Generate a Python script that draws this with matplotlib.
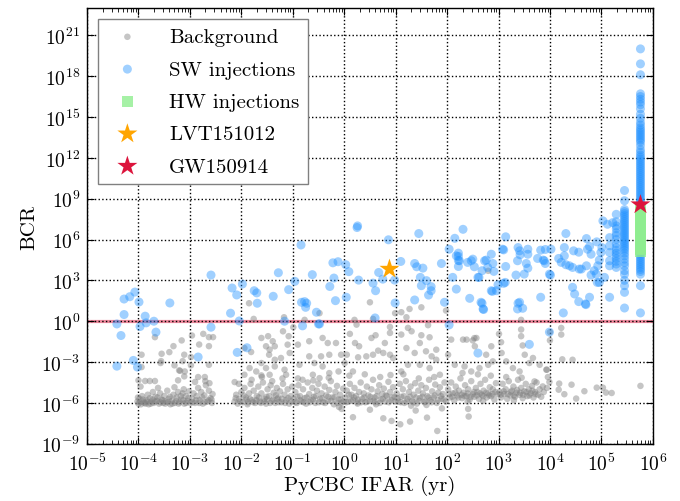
import numpy as np
import matplotlib
matplotlib.use("Agg")
import matplotlib.pyplot as plt
from matplotlib.ticker import LogLocator, NullLocator, LogFormatterMathtext

plt.rcParams["font.family"] = "serif"
plt.rcParams["font.serif"] = ["cmr10", "DejaVu Serif"]
plt.rcParams["mathtext.fontset"] = "cm"
plt.rcParams["axes.formatter.use_mathtext"] = True
plt.rcParams["axes.unicode_minus"] = False

# values, as log10(IFAR / yr) and log10(BCR)
bg_pts = [
    # dense band, 1e-4 .. 1e-3 yr
    (-4.02, -5.9), (-4.0, -6.05), (-3.98, -5.7), (-3.95, -6.1), (-3.93, -5.5), (-3.9, -5.95),
    (-3.88, -6.0), (-3.85, -5.8), (-3.82, -5.4), (-3.8, -6.1), (-3.78, -5.65), (-3.75, -5.9),
    (-3.72, -5.2), (-3.7, -6.0), (-3.67, -5.55), (-3.64, -5.85), (-3.6, -6.05), (-3.58, -5.3),
    (-3.55, -5.75), (-3.52, -6.0), (-3.5, -5.5), (-3.47, -5.9), (-3.44, -5.1), (-3.41, -5.7),
    (-3.38, -6.1), (-3.35, -5.85), (-3.32, -5.4), (-3.29, -6.0), (-3.26, -5.6), (-3.23, -5.2),
    (-3.2, -5.95), (-3.17, -5.75), (-3.14, -5.3), (-3.11, -6.05), (-3.08, -5.5), (-3.05, -5.85),
    (-3.02, -5.15), (-2.99, -6.0), (-3.96, -4.8), (-3.62, -4.9), (-3.3, -4.85), (-3.12, -5.0),
    (-2.96, -5.7), (-2.93, -5.3), (-2.9, -6.0), (-2.87, -5.5), (-2.84, -4.9), (-2.81, -5.8),
    (-2.78, -5.2), (-2.75, -6.05), (-2.72, -5.45), (-2.69, -4.7), (-2.66, -5.9), (-2.63, -5.1),
    (-2.6, -5.65), (-2.57, -6.0), (-2.56, -5.35), (-2.7, -4.4), (-2.62, -4.55),
    (-4.01, -5.6), (-3.97, -5.95), (-3.91, -5.75), (-3.86, -6.05), (-3.83, -5.9), (-3.76, -6.05),
    (-3.73, -5.75), (-3.68, -5.9), (-3.63, -5.6), (-3.57, -5.95), (-3.53, -5.8), (-3.48, -6.05),
    (-3.43, -5.95), (-3.39, -5.55), (-3.34, -6.05), (-3.27, -5.85), (-3.22, -6.05), (-3.18, -5.5),
    (-3.13, -5.8), (-3.07, -6.0), (-3.03, -5.65), (-2.95, -5.95), (-2.88, -5.8), (-2.82, -6.0),
    (-2.76, -5.6), (-2.7, -5.95), (-2.64, -5.8), (-2.58, -5.75),
    # 1e-2 .. 1e-1
    (-2.13, -5.9), (-2.1, -5.4), (-2.07, -6.05), (-2.04, -5.7), (-2.0, -5.2), (-1.97, -5.95),
    (-1.94, -4.9), (-1.91, -5.6), (-1.88, -6.1), (-1.85, -5.3), (-1.82, -4.6), (-1.79, -5.8),
    (-1.76, -5.1), (-1.73, -6.0), (-1.7, -5.5), (-1.67, -4.8), (-1.64, -5.9), (-1.61, -5.3),
    (-1.58, -4.5), (-1.55, -5.7), (-1.52, -6.05), (-1.49, -5.0), (-1.46, -5.5), (-1.43, -4.7),
    (-1.4, -5.85), (-1.37, -5.25), (-1.34, -6.0), (-1.31, -4.9), (-1.28, -5.6), (-1.25, -5.15),
    (-1.22, -5.95), (-1.19, -4.6), (-1.16, -5.4), (-1.13, -5.8), (-1.1, -5.0), (-1.07, -6.05),
    (-1.04, -5.5), (-1.01, -4.8), (-1.8, -4.3), (-1.6, -4.1), (-1.4, -4.4), (-1.2, -4.2),
    (-2.05, -4.6), (-1.5, -5.75), (-1.3, -5.7), (-1.9, -5.75),
    (-2.11, -5.65), (-2.02, -5.9), (-1.96, -5.45), (-1.87, -5.95), (-1.83, -5.7), (-1.77, -5.95),
    (-1.71, -5.8), (-1.66, -5.6), (-1.62, -6.0), (-1.56, -5.9), (-1.51, -5.55), (-1.44, -6.0),
    (-1.38, -5.75), (-1.33, -5.45), (-1.27, -5.95), (-1.21, -5.7), (-1.15, -6.0), (-1.09, -5.65),
    (-1.03, -5.9),
    # 1e-1 .. 1
    (-0.98, -5.7), (-0.95, -5.2), (-0.92, -6.0), (-0.89, -4.7), (-0.86, -5.5), (-0.83, -5.9),
    (-0.8, -5.0), (-0.77, -5.65), (-0.74, -6.05), (-0.71, -4.5), (-0.68, -5.35), (-0.65, -5.8),
    (-0.62, -4.9), (-0.59, -5.55), (-0.56, -6.0), (-0.53, -5.1), (-0.5, -4.6), (-0.47, -5.7),
    (-0.44, -5.3), (-0.41, -5.95), (-0.38, -4.8), (-0.35, -5.45), (-0.32, -5.85), (-0.29, -5.05),
    (-0.26, -4.4), (-0.23, -5.6), (-0.2, -6.1), (-0.17, -5.2), (-0.14, -4.75), (-0.11, -5.75),
    (-0.08, -5.4), (-0.05, -6.0), (-0.02, -4.95), (-0.9, -4.2), (-0.6, -4.35), (-0.3, -4.15),
    (-0.1, -6.3),
    (-0.96, -5.95), (-0.91, -5.55), (-0.85, -5.8), (-0.79, -5.95), (-0.73, -5.6), (-0.67, -5.95),
    (-0.61, -5.75), (-0.55, -5.5), (-0.49, -5.95), (-0.43, -5.65), (-0.37, -6.0), (-0.31, -5.55),
    (-0.25, -5.85), (-0.19, -5.6), (-0.13, -6.0), (-0.07, -5.75), (-0.01, -5.9),
    # 1 .. 10
    (0.02, -5.6), (0.05, -5.1), (0.08, -5.9), (0.11, -4.6), (0.14, -5.4), (0.17, -5.8),
    (0.2, -4.9), (0.23, -5.5), (0.26, -6.05), (0.29, -5.2), (0.32, -4.5), (0.35, -5.7),
    (0.38, -5.3), (0.41, -5.95), (0.44, -4.8), (0.47, -5.45), (0.5, -5.85), (0.53, -5.0),
    (0.56, -4.3), (0.59, -5.6), (0.62, -6.1), (0.65, -5.15), (0.68, -4.7), (0.71, -5.75),
    (0.74, -5.35), (0.77, -4.95), (0.8, -5.9), (0.83, -5.5), (0.86, -4.45), (0.89, -5.2),
    (0.92, -5.8), (0.95, -4.85), (0.98, -5.55), (0.1, -4.0), (0.4, -3.9), (0.7, -4.1),
    (0.9, -3.95), (0.25, -5.95), (0.6, -5.95),
    (0.04, -5.95), (0.09, -5.4), (0.13, -5.85), (0.19, -5.6), (0.27, -5.75), (0.33, -5.95),
    (0.39, -5.6), (0.45, -5.9), (0.51, -5.55), (0.57, -5.85), (0.63, -5.5), (0.69, -6.0),
    (0.75, -5.7), (0.81, -5.45), (0.87, -5.95), (0.93, -5.6), (0.99, -5.9),
    # 10 .. 100
    (1.02, -5.3), (1.05, -5.9), (1.08, -4.6), (1.11, -5.55), (1.14, -5.0), (1.17, -6.0),
    (1.2, -4.4), (1.23, -5.7), (1.26, -5.2), (1.29, -4.8), (1.32, -5.85), (1.35, -5.4),
    (1.38, -4.55), (1.41, -6.05), (1.44, -5.1), (1.47, -5.65), (1.5, -4.7), (1.53, -5.3),
    (1.56, -5.95), (1.59, -4.9), (1.62, -5.5), (1.65, -4.3), (1.68, -5.8), (1.71, -5.15),
    (1.74, -5.6), (1.77, -4.65), (1.8, -6.0), (1.83, -5.25), (1.86, -4.85), (1.89, -5.7),
    (1.92, -5.35), (1.95, -4.5), (1.98, -5.9), (1.15, -3.9), (1.45, -4.2), (1.75, -4.1),
    (1.3, -6.2), (1.6, -6.15),
    (1.04, -5.65), (1.1, -5.95), (1.16, -5.5), (1.22, -5.9), (1.28, -5.55), (1.34, -5.95),
    (1.4, -5.6), (1.46, -5.85), (1.52, -5.55), (1.58, -5.9), (1.64, -5.6), (1.7, -5.95),
    (1.76, -5.45), (1.82, -5.8), (1.88, -5.5), (1.94, -5.75),
    # 100 .. 1e3
    (2.02, -5.0), (2.05, -5.6), (2.08, -4.5), (2.11, -5.3), (2.14, -5.8), (2.17, -4.8),
    (2.2, -5.45), (2.23, -5.1), (2.26, -4.2), (2.29, -5.65), (2.32, -5.25), (2.35, -4.7),
    (2.38, -5.5), (2.41, -5.0), (2.44, -5.75), (2.47, -4.4), (2.5, -5.35), (2.53, -5.55),
    (2.56, -4.9), (2.59, -5.2), (2.62, -5.7), (2.65, -4.6), (2.68, -5.4), (2.71, -5.1),
    (2.74, -4.3), (2.77, -5.6), (2.8, -5.3), (2.83, -4.85), (2.86, -5.5), (2.89, -5.0),
    (2.92, -5.75), (2.95, -4.55), (2.98, -5.35), (2.3, -3.8), (2.6, -3.9), (2.85, -4.0),
    (2.4, -5.9), (2.7, -5.85),
    (2.04, -5.35), (2.1, -5.55), (2.16, -5.25), (2.22, -5.6), (2.28, -5.4), (2.34, -5.5),
    (2.4, -5.3), (2.46, -5.55), (2.52, -5.2), (2.58, -5.45), (2.64, -5.3), (2.7, -5.5),
    (2.76, -5.25), (2.82, -5.45), (2.88, -5.35), (2.94, -5.2),
    # 1e3 .. 1e4
    (3.02, -5.2), (3.05, -5.6), (3.08, -4.6), (3.11, -5.35), (3.14, -5.0), (3.17, -5.7),
    (3.2, -4.4), (3.23, -5.45), (3.26, -5.1), (3.29, -4.8), (3.32, -5.55), (3.35, -5.25),
    (3.38, -4.3), (3.41, -5.4), (3.44, -4.9), (3.47, -5.65), (3.5, -5.15), (3.53, -4.6),
    (3.56, -5.5), (3.59, -5.0), (3.62, -5.3), (3.65, -4.75), (3.68, -5.6), (3.71, -5.2),
    (3.74, -4.5), (3.77, -5.4), (3.8, -5.0), (3.83, -5.55), (3.88, -5.2), (3.94, -4.9),
    (3.15, -4.1), (3.45, -4.15), (3.3, -5.8),
    (3.04, -5.4), (3.1, -5.15), (3.18, -5.35), (3.24, -5.2), (3.3, -5.45), (3.36, -5.05),
    (3.42, -5.25), (3.48, -5.4), (3.54, -5.2), (3.6, -5.45), (3.66, -5.1), (3.72, -5.35),
    # sparse upper part
    (-3.68, -1.17), (-3.94, -2.46), (-3.55, -2.39), (-3.4, -2.27), (-3.32, -1.83), (-3.16, -1.41),
    (-3.11, -2.46), (-3.14, -2.93), (-3.3, -3.24), (-3.56, -2.93), (-2.96, -1.05), (-2.74, -0.93),
    (-2.82, -1.71), (-2.63, -1.17), (-2.55, -1.17), (-2.63, -1.83), (-2.98, -2.63), (-2.98, -3.24),
    (-3.21, -3.61), (-3.11, -4.05), (-3.23, -4.34), (-2.84, -4.1), (-2.71, -4.1), (-2.9, -4.46),
    (-4.0, -4.34), (-3.87, -4.39), (-3.78, -4.39), (-3.68, -4.39), (-3.94, -3.37), (-3.57, -3.07),
    (-3.19, -3.64), (-3.1, -3.69), (-2.63, -3.2), (-2.13, -4.47),
    (-1.85, 1.32), (-1.76, 0.17), (-1.17, 0.29), (-0.99, -0.44), (-0.77, 0.1), (-0.48, 0.59),
    (-1.94, -1.97), (-1.81, -2.26), (-1.61, -1.23), (-1.48, -1.1), (-1.52, -1.84), (-1.45, -2.09),
    (-1.39, -1.47), (-1.35, -1.84), (-1.46, -2.46), (-1.35, -2.83), (-1.23, -2.7), (-1.1, -1.72),
    (-1.06, -2.33), (-1.19, -0.74), (-1.08, -1.1), (-1.61, -3.07), (-1.52, -3.44), (-1.35, -3.32),
    (-1.84, -3.44), (-1.94, -3.93), (-1.71, -3.69), (-1.61, -3.98), (-1.45, -3.93), (-1.16, -3.56),
    (-1.13, -3.93),
    (-0.9, -1.72), (-0.68, -1.47), (-0.42, -1.23), (-0.32, -1.6), (-0.16, -1.6), (-0.06, -2.46),
    (-0.29, -2.46), (-0.45, -2.58), (-0.68, -2.58), (-0.87, -3.2), (-0.58, -3.07), (-0.42, -3.32),
    (-0.29, -3.81), (-0.11, -3.69), (-0.61, -3.93), (-0.81, -4.3), (-0.48, -4.18),
    (0.24, -0.25), (0.89, -0.42), (0.89, -0.86), (0.11, -0.93), (0.21, -1.6), (0.29, -1.84),
    (0.53, -1.23), (0.61, -1.03), (0.79, -1.6), (0.66, -2.16), (0.76, -2.33), (0.89, -2.46),
    (0.56, -2.46), (0.43, -2.58), (0.27, -2.65), (0.05, -2.46), (0.01, -3.07), (0.17, -3.69),
    (0.95, -2.7), (1.11, -0.98), (1.24, -0.49), (1.31, -0.74), (1.5, -1.03), (1.63, -0.29),
    (1.66, -1.18), (1.47, -1.6), (1.21, -1.97), (1.59, -2.21), (1.79, -2.09), (1.7, -2.58),
    (1.37, -2.33), (1.79, -2.83), (1.24, -3.2), (1.11, -3.69), (1.47, -3.2), (1.66, -3.44),
    (1.86, -3.93), (2.08, -1.35), (2.31, -1.35), (2.38, -1.35), (2.57, -1.23), (2.54, -1.84),
    (2.02, -2.46), (2.15, -3.2), (2.34, -3.32), (2.47, -3.69), (2.63, -3.44), (2.8, -3.2),
    (2.89, -2.95), (2.76, -2.46), (2.86, -1.84), (3.06, -2.33), (3.15, -2.95), (3.28, -3.44),
    (3.41, -3.69), (3.44, -1.1), (3.44, -0.61), (3.51, -2.46), (3.6, -3.07), (3.67, -2.7),
    (3.8, -3.2), (3.93, -3.56), (3.7, -4.42), (3.86, -4.79),
    (0.5, 1.39), (0.99, 0.59), (1.11, 0.66), (1.27, 0.9), (1.21, 0.29), (1.5, 1.02),
    (1.98, 0.78), (0.2, 0.1), (0.56, 0.17), (3.44, 0.1), (2.8, 3.7),
    (3.01, -0.93), (3.05, -1.54), (2.5, -1.41), (2.53, -1.24), (4.0, -0.8), (4.0, -1.41),
    (4.22, -0.49), (4.22, -0.98), (4.44, -2.83), (3.94, -3.56), (4.24, -2.8), (3.47, -1.78),
    # tail at large IFAR
    (3.99, -4.46), (4.18, -4.58), (4.42, -4.66), (4.51, -5.68), (4.67, -5.14), (4.91, -4.88),
    (5.03, -4.88), (5.09, -5.24), (5.2, -5.27), (5.76, -4.75), (4.28, -5.36), (4.17, -5.03),
    (3.96, -4.1),
    # below the band
    (0.17, -7.05), (0.76, -7.13), (0.92, -7.32), (1.09, -7.57), (1.28, -7.37), (1.39, -6.56),
    (1.61, -7.08), (1.81, -8.06), (2.41, -6.44), (2.42, -7.0), (-0.05, -6.44), (0.5, -6.5),
    (1.9, -6.4),
]

sw_pts = [
    (-4.42, -0.2), (-4.34, -1.05), (-4.42, -3.3), (-4.28, 0.49), (-4.28, 1.63), (-4.17, 1.8),
    (-4.07, 2.14), (-3.99, 1.41), (-3.97, -0.39), (-4.1, -2.88), (-4.02, -3.37), (-3.87, 0.37),
    (-3.85, -0.12), (-3.7, 0.0), (-3.66, -0.8), (-3.39, 1.34), (-2.59, 3.39), (-2.59, -0.44),
    (-2.84, -2.63), (-2.21, 0.59), (-2.18, 2.44), (-2.09, 1.93), (-1.98, 2.73), (-2.04, 0.02),
    (-2.08, -2.29), (-1.89, -1.95), (-1.75, 2.24), (-1.7, 2.08), (-1.69, 1.32), (-1.38, 1.83),
    (-1.28, 3.56), (-1.08, 2.32), (-0.96, 2.93), (-0.81, -0.34), (-0.77, 1.44), (-0.73, 1.32),
    (-0.75, 1.02), (-0.62, 3.42), (-0.54, 0.66), (-0.5, -0.2), (-0.22, 4.29), (-0.2, 3.17),
    (-0.17, 1.51), (-0.28, 2.55), (-0.84, 5.6),
    (0.25, 6.88), (1.45, 6.44), (0.86, 5.98), (2.31, 6.75), (2.15, 6.09), (2.04, 5.29),
    (2.22, 5.0), (2.22, 4.76), (2.22, 4.46), (2.22, 4.02), (2.47, 4.44), (2.53, 4.0),
    (2.6, 3.22), (2.11, 3.22), (2.18, 2.36), (2.44, 1.68), (1.95, 1.39), (2.04, -0.27),
    (-0.12, 4.37), (0.03, 4.15), (0.09, 3.64), (-0.83, 1.39), (-0.48, -0.2), (-1.16, 0.0),
    (0.04, 1.76), (0.28, 3.02), (0.56, 2.8), (0.61, 2.24), (0.67, 3.58), (0.75, 3.09),
    (0.98, 3.02), (1.1, 4.39), (0.99, 1.34), (0.6, 0.24), (1.37, 4.24), (1.41, 4.0),
    (1.53, 3.9), (1.48, 3.22), (1.5, 2.61), (1.6, 2.98), (1.69, 2.54), (1.69, 2.24),
    (1.64, 1.92), (1.37, 1.56), (1.89, 4.24), (0.26, 7.0), (2.6, -2.34), (3.6, -1.7),
    (2.5, 4.56), (2.62, 3.22), (2.68, 3.71), (2.76, 4.49), (2.79, 3.95), (2.86, 4.92),
    (2.89, 4.24), (2.91, 3.66), (2.88, 2.19), (2.68, 1.32), (2.71, 0.86), (2.99, 2.68),
    (3.1, 2.78), (3.1, 5.24), (3.14, 6.2), (3.14, 4.02), (3.34, 3.39), (3.38, 5.41),
    (3.41, 5.17), (3.42, 4.88), (3.5, 3.46), (3.54, 4.24), (3.57, 3.9), (3.57, 4.92),
    (3.38, 1.32), (3.47, 0.95), (3.76, 4.61), (3.82, 5.22), (3.87, 4.49), (3.91, 5.27),
    (3.91, 4.24), (4.02, 5.29), (4.01, 3.39), (3.82, 1.76), (3.99, -0.8),
    (4.17, 4.61), (4.28, 5.41), (4.31, 6.44), (4.28, 4.8), (4.31, 4.15), (4.38, 4.07),
    (4.44, 3.95), (4.46, 5.17), (4.56, 5.07), (4.61, 3.83), (4.44, 2.49), (4.48, 2.0),
    (4.56, 1.44), (4.69, 1.27), (4.77, 1.76), (4.26, 0.61), (4.71, 6.07), (4.73, 5.29),
    (4.77, 5.49), (4.8, 4.92), (4.8, 3.39), (4.92, 2.85), (4.9, 3.46), (4.93, 4.07),
    (4.96, 4.49), (4.91, 5.83), (4.99, 5.05), (5.01, 5.41), (5.06, 3.22), (5.16, 1.76),
    (5.03, 7.37), (5.12, 7.12), (5.22, 7.24), (5.16, 6.14), (5.16, 5.54), (5.16, 5.05),
    (5.16, 4.44), (5.16, 4.07),
    (2.18, 4.8), (2.24, 4.44), (2.4, 4.32), (2.73, 4.44), (2.96, 2.24), (3.13, 2.85),
    (3.08, 5.29), (3.37, 4.44), (3.57, 5.29), (3.89, 4.44), (3.99, 3.46), (4.22, 4.32),
    (4.57, 3.83), (4.71, 4.07), (4.86, 3.71), (4.96, 2.85), (4.7, 1.22), (2.66, 1.39),
    (2.7, 0.9), (3.41, 1.39), (3.37, 0.9), (2.86, 2.24),
]

# vertical stacks of injections near the top IFAR values
col_529 = [7.85, 7.3, 7.0, 6.8, 6.5, 6.3, 6.0, 5.7, 5.4, 5.2, 5.0, 4.8, 4.6, 4.4, 4.2, 3.95]
col_545 = [9.6, 8.85, 8.2, 8.05, 7.9, 7.75, 7.6, 7.45, 7.3, 7.15, 7.0, 6.85, 6.7, 6.55,
           6.4, 6.25, 6.1, 5.95, 5.8, 5.65, 5.5, 5.35, 5.2, 5.0, 4.8, 4.56, 4.3, 4.07,
           3.71, 3.45, 3.0, 2.61, 2.12, 0.97]
col_576 = [20.0, 18.9, 18.1, 16.7, 16.5, 16.3, 16.1, 15.9, 15.6, 15.2, 14.9, 14.6, 14.4,
           14.2, 14.05, 13.9, 13.75, 13.6, 13.45, 13.3, 13.15, 12.9, 12.6, 12.4, 12.2,
           12.05, 11.9, 11.75, 11.6, 11.45, 11.3, 11.15, 11.0, 10.85, 10.7, 10.55, 10.4,
           10.25, 10.1, 9.95, 9.8, 9.65, 9.5, 9.35, 9.2, 9.05, 8.9, 8.75, 8.6, 8.45, 8.3,
           8.15, 8.0, 7.85, 7.7, 7.55, 7.4, 7.25, 7.1, 6.95, 6.8, 6.65, 6.5, 6.35, 6.2,
           6.05, 5.9, 5.75, 5.6, 5.45, 5.3, 5.15, 5.0, 4.85, 4.7, 4.55, 4.4, 4.25, 4.1,
           3.95, 3.8, 3.65, 3.45, 2.61, 0.61]

hw_lx = 5.76
hw_ly = [5.15, 5.25, 5.35, 5.45, 5.55, 5.65, 5.75, 5.85, 5.95, 6.05, 6.15, 6.25, 6.4,
         6.6, 6.8, 7.0, 7.2, 7.4, 7.6, 7.8, 8.0, 8.15]

lvt_lx, lvt_ly = 0.88, 3.83
gw_lx, gw_ly = 5.76, 8.56

bg_x = 10.0 ** np.array([p[0] for p in bg_pts])
bg_y = 10.0 ** np.array([p[1] for p in bg_pts])
sw_lx = [p[0] for p in sw_pts] + [5.29] * len(col_529) + [5.45] * len(col_545) + [5.76] * len(col_576)
sw_ly = [p[1] for p in sw_pts] + col_529 + col_545 + col_576
sw_x = 10.0 ** np.array(sw_lx)
sw_y = 10.0 ** np.array(sw_ly)

fig = plt.figure(figsize=(6.8, 5.02), dpi=100)
ax = fig.add_axes([0.128, 0.114, 0.832, 0.868])

ax.scatter(bg_x, bg_y, s=22, color="gray", alpha=0.45, edgecolors="none",
           label="Background", zorder=2)
ax.scatter(sw_x, sw_y, s=42, color="dodgerblue", alpha=0.42, edgecolors="none",
           label="SW injections", zorder=3)
ax.scatter(np.full(len(hw_ly), 10.0 ** hw_lx), 10.0 ** np.array(hw_ly), s=62, marker="s",
           color="lightgreen", alpha=0.8, edgecolors="none", label="HW injections", zorder=4)
ax.scatter([10.0 ** lvt_lx], [10.0 ** lvt_ly], s=230, marker="*", color="orange",
           edgecolors="none", label="LVT151012", zorder=6)
ax.scatter([10.0 ** gw_lx], [10.0 ** gw_ly], s=230, marker="*", color="crimson",
           edgecolors="none", label="GW150914", zorder=6)

ax.axhline(1.0, color="crimson", alpha=0.5, lw=2.3, zorder=1)

ax.set_xscale("log")
ax.set_yscale("log")
ax.set_xlim(1e-5, 1e6)
ax.set_ylim(1e-9, 1e23)

ax.set_xticks([10.0 ** k for k in range(-5, 7)])
ax.xaxis.set_minor_locator(LogLocator(base=10, subs=np.arange(2, 10), numticks=30))
ax.set_yticks([10.0 ** k for k in range(-9, 22, 3)])
ax.yaxis.set_minor_locator(NullLocator())
ax.xaxis.set_major_formatter(LogFormatterMathtext())
ax.yaxis.set_major_formatter(LogFormatterMathtext())

ax.tick_params(which="both", direction="in", top=True, right=True, labelsize=14)
ax.tick_params(which="major", length=5, width=0.8)
ax.tick_params(axis="x", which="major", pad=6)
ax.tick_params(axis="y", which="major", pad=5)
ax.tick_params(which="minor", length=3, width=0.6)
ax.grid(True, which="major", color="k", linestyle=":", linewidth=1.0)
for sp in ax.spines.values():
    sp.set_linewidth(1.0)

ax.set_xlabel("PyCBC IFAR (yr)", fontsize=15, labelpad=1)
ax.set_ylabel("BCR", fontsize=15, labelpad=2)

leg = ax.legend(loc="upper left", bbox_to_anchor=(0.019, 0.975), borderaxespad=0,
                fontsize=15, scatterpoints=1, fancybox=False, framealpha=1,
                labelspacing=0.66, handletextpad=1.0, borderpad=0.42)
leg.get_frame().set_edgecolor("gray")
leg.get_frame().set_linewidth(1.0)

fig.savefig("out.png", dpi=100)
